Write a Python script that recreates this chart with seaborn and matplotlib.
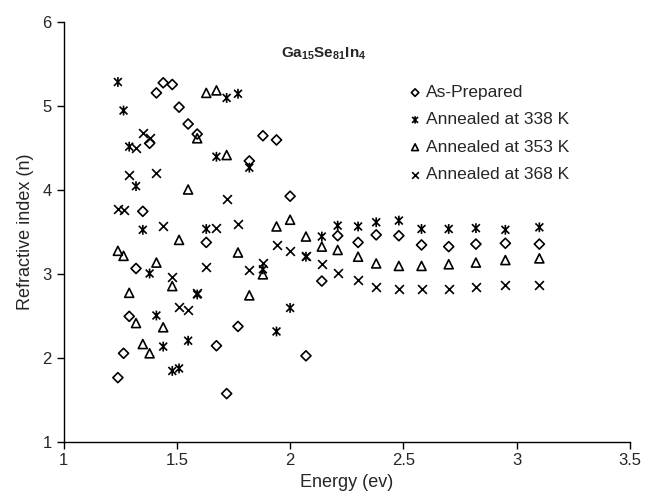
import matplotlib
matplotlib.use("Agg")
import matplotlib.pyplot as plt
from matplotlib.path import Path
import pandas as pd
import seaborn as sns

# photon energy (eV) - same grid for all four samples
energy = [1.24, 1.265, 1.29, 1.32, 1.35, 1.38, 1.41, 1.44, 1.48, 1.51, 1.55,
          1.59, 1.63, 1.675, 1.72, 1.77, 1.82, 1.88, 1.94, 2.0, 2.07, 2.14,
          2.21, 2.30, 2.38, 2.48, 2.58, 2.70, 2.82, 2.95, 3.10]

n_as_prepared = [1.76, 2.05, 2.49, 3.06, 3.74, 4.55, 5.15, 5.27, 5.25, 4.98, 4.78,
                 4.66, 3.37, 2.14, 1.57, 2.37, 4.34, 4.64, 4.59, 3.92, 2.02, 2.91,
                 3.45, 3.37, 3.46, 3.45, 3.34, 3.32, 3.35, 3.36, 3.35]
n_338 = [5.28, 4.94, 4.51, 4.04, 3.52, 3.00, 2.50, 2.13, 1.84, 1.87, 2.20,
         2.75, 3.53, 4.39, 5.09, 5.14, 4.26, 3.05, 2.31, 2.59, 3.20, 3.44,
         3.57, 3.56, 3.61, 3.63, 3.53, 3.53, 3.54, 3.52, 3.55]
n_353 = [3.27, 3.21, 2.77, 2.41, 2.16, 2.05, 3.13, 2.36, 2.85, 3.40, 4.00,
         4.61, 5.15, 5.18, 4.41, 3.25, 2.74, 2.99, 3.56, 3.64, 3.44, 3.32,
         3.28, 3.20, 3.12, 3.09, 3.09, 3.11, 3.13, 3.16, 3.18]
n_368 = [3.77, 3.76, 4.17, 4.50, 4.67, 4.61, 4.20, 3.56, 2.96, 2.60, 2.57,
         2.77, 3.08, 3.54, 3.89, 3.59, 3.04, 3.13, 3.34, 3.27, 3.21, 3.11,
         3.01, 2.92, 2.84, 2.81, 2.81, 2.82, 2.84, 2.86, 2.86]

labels = ["As-Prepared", "Annealed at 338 K", "Annealed at 353 K", "Annealed at 368 K"]

sns.set_style("ticks")
plt.rcParams['font.family'] = ['Liberation Sans', 'DejaVu Sans']
plt.rcParams['mathtext.fontset'] = 'custom'
plt.rcParams['mathtext.rm'] = 'Liberation Sans'
plt.rcParams['mathtext.bf'] = 'Liberation Sans:bold'

# excel-like "star" marker: an x with a vertical bar
star = Path([(-1, -1), (1, 1), (-1, 1), (1, -1), (0, -1.25), (0, 1.25)],
            [Path.MOVETO, Path.LINETO] * 3)

fig, ax = plt.subplots(figsize=(6.49, 5.0), dpi=100)
fig.subplots_adjust(left=63.5 / 649, right=630 / 649, bottom=58.5 / 500, top=478.5 / 500)

sns.scatterplot(x=energy, y=n_as_prepared, marker='D', s=26, facecolor='none',
                edgecolor='black', linewidth=1.2, label=labels[0], ax=ax)
sns.scatterplot(x=energy, y=n_338, marker=star, s=50, facecolor='none',
                edgecolor='black', linewidth=1.2, label=labels[1], ax=ax)
sns.scatterplot(x=energy, y=n_353, marker='^', s=42, facecolor='none',
                edgecolor='black', linewidth=1.2, label=labels[2], ax=ax)
sns.scatterplot(x=energy, y=n_368, marker='x', s=40, color='black',
                linewidth=1.2, label=labels[3], ax=ax)

ax.set_xlim(1, 3.5)
ax.set_ylim(1, 6)
ax.set_xticks([1, 1.5, 2, 2.5, 3, 3.5])
ax.set_xticklabels(['1', '1.5', '2', '2.5', '3', '3.5'])
ax.set_yticks([1, 2, 3, 4, 5, 6])
ax.set_xlabel('Energy (ev)', fontsize=13, labelpad=4)
ax.set_ylabel('Refractive index (n)', fontsize=13, labelpad=6)
ax.tick_params(labelsize=12, direction='out', length=5, width=1, color='black')
sns.despine(ax=ax)
for s in ['left', 'bottom']:
    ax.spines[s].set_color('black')
    ax.spines[s].set_linewidth(1)

ax.text(1.96, 5.61, r'$\mathbf{Ga_{15}Se_{81}In_{4}}$', fontsize=11,
        ha='left', va='center')

ax.legend(loc='upper left', bbox_to_anchor=(409 / 649, 1 - 85 / 500),
          bbox_transform=fig.transFigure, frameon=False, fontsize=12.5,
          handlelength=0.7, handletextpad=0.28, labelspacing=0.7,
          borderpad=0, borderaxespad=0, markerscale=0.75)

fig.savefig('out.png', dpi=100)
